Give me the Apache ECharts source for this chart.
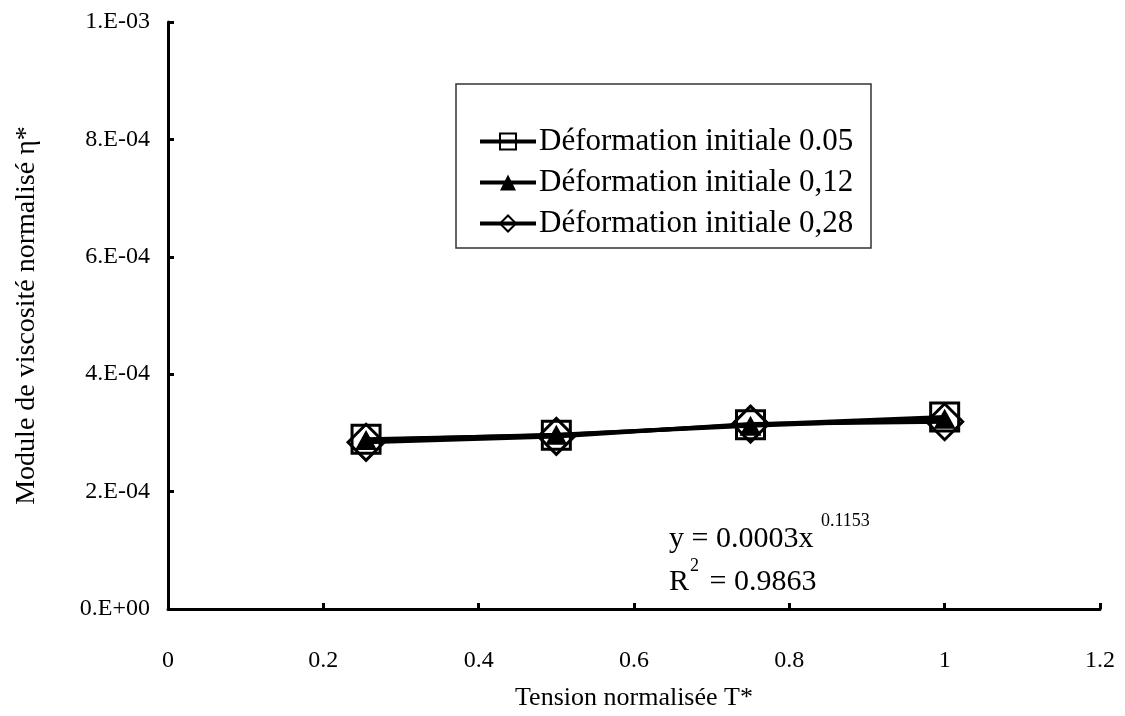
<!DOCTYPE html>
<html>
<head>
<meta charset="utf-8">
<script src="https://cdn.jsdelivr.net/npm/echarts@6/dist/echarts.min.js"></script>
<style>
html,body{margin:0;padding:0;background:#fff;}
#chart{width:1125px;height:716px;}
</style>
</head>
<body>
<div id="chart"></div>
<script>
// ---- data ----
var xValues = [0.255, 0.5, 0.75, 1.0];
var def005 = [2.89e-4, 2.96e-4, 3.14e-4, 3.27e-4];
var def012 = [2.88e-4, 2.97e-4, 3.12e-4, 3.24e-4];
var def028 = [2.84e-4, 2.94e-4, 3.15e-4, 3.19e-4];
var seriesNames = ['Déformation initiale 0.05', 'Déformation initiale 0,12', 'Déformation initiale 0,28'];
var xTickLabels = ['0', '0.2', '0.4', '0.6', '0.8', '1', '1.2'];
var yTickLabels = ['0.E+00', '2.E-04', '4.E-04', '6.E-04', '8.E-04', '1.E-03'];
var xAxisTitle = 'Tension normalisée T*';
var yAxisTitle = 'Module de viscosité normalisé η*';

var FONT = '"Liberation Serif", "DejaVu Serif", serif';

function pairs(xs, ys) { return xs.map(function (x, i) { return [x, ys[i]]; }); }

var chart = echarts.init(document.getElementById('chart'), null, {renderer: 'canvas'});
var lineStyle = {color: '#000', width: 4};
var option = {
  backgroundColor: '#fff',
  animation: false,
  textStyle: {fontFamily: FONT, color: '#000'},
  grid: {left: 168, right: 25, top: 22, bottom: 105, containLabel: false},
  xAxis: {
    type: 'value', min: 0, max: 1.2, interval: 0.2,
    name: xAxisTitle, nameLocation: 'middle', nameGap: 76,
    nameTextStyle: {fontFamily: FONT, fontSize: 26, color: '#000'},
    axisLine: {onZero: false, lineStyle: {color: '#000', width: 3}},
    axisTick: {inside: true, length: 6, lineStyle: {color: '#000', width: 3}},
    axisLabel: {margin: 40, fontFamily: FONT, fontSize: 24, color: '#000',
      formatter: function (v) { return xTickLabels[Math.round(v / 0.2)]; }},
    splitLine: {show: false}
  },
  yAxis: {
    type: 'value', min: 0, max: 1e-3, interval: 2e-4,
    name: yAxisTitle, nameLocation: 'middle', nameGap: 127, nameRotate: 90,
    nameTextStyle: {fontFamily: FONT, fontSize: 28, color: '#000'},
    axisLine: {show: true, onZero: false, lineStyle: {color: '#000', width: 3}},
    axisTick: {show: true, inside: true, length: 6, lineStyle: {color: '#000', width: 3}},
    axisLabel: {margin: 18, fontFamily: FONT, fontSize: 24, color: '#000',
      formatter: function (v) { return yTickLabels[Math.round(v / 2e-4)]; }},
    splitLine: {show: false}
  },
  legend: {
    orient: 'vertical', left: 478, top: 126,
    padding: 0, itemGap: 10,
    itemWidth: 56, itemHeight: 20,
    lineStyle: {width: 4},
    textStyle: {fontFamily: FONT, fontSize: 31, color: '#000', padding: [0, 0, 0, -2]},
    data: seriesNames
  },
  series: [
    {name: seriesNames[0], type: 'line', data: pairs(xValues, def005),
     symbol: 'rect', symbolSize: 28, lineStyle: lineStyle,
     itemStyle: {color: 'rgba(0,0,0,0)', borderColor: '#000', borderWidth: 3}, z: 3},
    {name: seriesNames[1], type: 'line', data: pairs(xValues, def012),
     symbol: 'triangle', symbolSize: [22, 20], lineStyle: lineStyle,
     itemStyle: {color: '#000', borderColor: '#000', borderWidth: 0}, z: 4},
    {name: seriesNames[2], type: 'line', data: pairs(xValues, def028),
     symbol: 'diamond', symbolSize: 36, lineStyle: lineStyle,
     itemStyle: {color: 'rgba(0,0,0,0)', borderColor: '#000', borderWidth: 3}, z: 5}
  ],
  graphic: [
    {type: 'rect', z: 1, silent: true,
     shape: {x: 456, y: 84, width: 415, height: 164},
     style: {fill: '#fff', stroke: '#333', lineWidth: 1.5}},
    {type: 'text', left: 669, top: 524, z: 10,
     style: {text: 'y = 0.0003x', font: '30px ' + FONT, fill: '#000'}},
    {type: 'text', left: 821, top: 512, z: 10,
     style: {text: '0.1153', font: '18px ' + FONT, fill: '#000'}},
    {type: 'text', left: 669, top: 567, z: 10,
     style: {text: 'R', font: '30px ' + FONT, fill: '#000'}},
    {type: 'text', left: 690, top: 557, z: 10,
     style: {text: '2', font: '18px ' + FONT, fill: '#000'}},
    {type: 'text', left: 702, top: 567, z: 10,
     style: {text: ' = 0.9863', font: '30px ' + FONT, fill: '#000'}}
  ]
};
chart.setOption(option);
</script>
</body>
</html>
